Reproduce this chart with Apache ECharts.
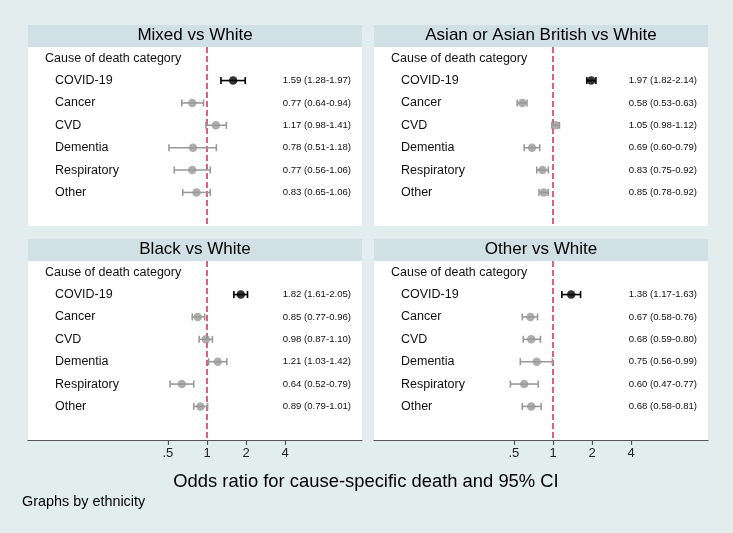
<!DOCTYPE html>
<html>
<head>
<meta charset="utf-8">
<script src="https://cdn.jsdelivr.net/npm/echarts@6/dist/echarts.min.js"></script>
<style>
html,body{margin:0;padding:0;background:#e2eeee;}
#chart{width:733px;height:533px;}
</style>
</head>
<body>
<div id="chart"></div>
<script>
// ---- data ----
const panelTitles = ["Mixed vs White", "Asian or Asian British vs White", "Black vs White", "Other vs White"];
const causes = ["COVID-19", "Cancer", "CVD", "Dementia", "Respiratory", "Other"];
const headerLabel = "Cause of death category";

const mixedOR = [1.59, 0.77, 1.17, 0.78, 0.77, 0.83];
const mixedLo = [1.28, 0.64, 0.98, 0.51, 0.56, 0.65];
const mixedHi = [1.97, 0.94, 1.41, 1.18, 1.06, 1.06];

const asianOR = [1.97, 0.58, 1.05, 0.69, 0.83, 0.85];
const asianLo = [1.82, 0.53, 0.98, 0.60, 0.75, 0.78];
const asianHi = [2.14, 0.63, 1.12, 0.79, 0.92, 0.92];

const blackOR = [1.82, 0.85, 0.98, 1.21, 0.64, 0.89];
const blackLo = [1.61, 0.77, 0.87, 1.03, 0.52, 0.79];
const blackHi = [2.05, 0.96, 1.10, 1.42, 0.79, 1.01];

const otherOR = [1.38, 0.67, 0.68, 0.75, 0.60, 0.68];
const otherLo = [1.17, 0.58, 0.59, 0.56, 0.47, 0.58];
const otherHi = [1.63, 0.76, 0.80, 0.99, 0.77, 0.81];

const xTicks = [0.5, 1, 2, 4];
const refValue = 1;
const xAxisTitle = "Odds ratio for cause-specific death and 95% CI";
const noteText = "Graphs by ethnicity";

// ---- build ----
const panels = [
  {or: mixedOR, lo: mixedLo, hi: mixedHi},
  {or: asianOR, lo: asianLo, hi: asianHi},
  {or: blackOR, lo: blackLo, hi: blackHi},
  {or: otherOR, lo: otherLo, hi: otherHi}
];
const rows = [headerLabel].concat(causes).concat([""]);
const fmt = v => v.toFixed(2);

const gridPos = [
  {left: 28, top: 47}, {left: 374, top: 47},
  {left: 28, top: 261}, {left: 374, top: 261}
];
const GW = 334, GH = 179;
const xMin = Math.pow(2, -4.578), xMax = Math.pow(2, 3.964);
const BLACK = '#000000', GREY = '#999999', RED = '#d43a5e';
const FONT = '"Liberation Sans", Arial, Helvetica, sans-serif';

const grid = [], xAxis = [], yAxis = [], series = [], graphic = [];
panels.forEach((p, i) => {
  const g = gridPos[i];
  grid.push({left: g.left, top: g.top, width: GW, height: GH, show: true,
             backgroundColor: '#ffffff', borderWidth: 0, containLabel: false});
  const bottom = i >= 2;
  xAxis.push({
    type: 'log', logBase: 2, gridIndex: i, min: xMin, max: xMax,
    show: bottom,
    axisLine: {show: bottom, lineStyle: {color: '#555555', width: 1.2}},
    axisTick: {show: bottom, length: 5, customValues: xTicks, lineStyle: {color: '#555555', width: 1.2}},
    axisLabel: {show: bottom, customValues: xTicks, margin: 7, fontSize: 13, color: '#222',
                fontFamily: FONT, formatter: v => (v === 0.5 ? '.5' : String(v))},
    splitLine: {show: false}, minorTick: {show: false}
  });
  const valueLabels = [''].concat(p.or.map((v, k) => `${fmt(v)} (${fmt(p.lo[k])}-${fmt(p.hi[k])})`)).concat(['']);
  yAxis.push({
    type: 'category', gridIndex: i, data: rows, inverse: true, position: 'left',
    axisLine: {show: false}, axisTick: {show: false}, splitLine: {show: false},
    axisLabel: {inside: true, margin: 17, interval: 0, fontSize: 12.5, color: '#111', fontFamily: FONT,
      formatter: v => v === headerLabel ? '{h|' + v + '}' : (v ? '{c|' + v + '}' : ''),
      rich: {h: {fontSize: 12.5, color: '#111', fontFamily: FONT},
             c: {fontSize: 12.5, color: '#111', fontFamily: FONT, padding: [0, 0, 0, 10]}}}
  });
  yAxis.push({
    type: 'category', gridIndex: i, data: rows, inverse: true, position: 'right',
    axisLine: {show: false}, axisTick: {show: false}, splitLine: {show: false},
    axisLabel: {inside: true, margin: 11, interval: 0, fontSize: 9.6, color: '#111', fontFamily: FONT,
      formatter: (v, idx) => valueLabels[idx]}
  });
  const ciData = causes.map((c, k) => [p.lo[k], p.hi[k], c, k]);
  series.push({
    type: 'custom', xAxisIndex: i, yAxisIndex: 2 * i, z: 3, silent: true,
    data: ciData, encode: {x: [0, 1], y: 2},
    renderItem: (params, api) => {
      const cat = api.value(2);
      const a = api.coord([api.value(0), cat]);
      const b = api.coord([api.value(1), cat]);
      const col = api.value(3) === 0 ? BLACK : GREY;
      const h = 3.5;
      const st = {stroke: col, lineWidth: 1.6};
      return {type: 'group', children: [
        {type: 'line', shape: {x1: a[0], y1: a[1], x2: b[0], y2: b[1]}, style: st},
        {type: 'line', shape: {x1: a[0], y1: a[1] - h, x2: a[0], y2: a[1] + h}, style: st},
        {type: 'line', shape: {x1: b[0], y1: b[1] - h, x2: b[0], y2: b[1] + h}, style: st}
      ]};
    }
  });
  series.push({
    type: 'scatter', xAxisIndex: i, yAxisIndex: 2 * i, z: 4, silent: true,
    symbol: 'circle', symbolSize: 8.5,
    data: causes.map((c, k) => ({value: [p.or[k], c], itemStyle: {color: k === 0 ? BLACK : GREY}})),
    markLine: {
      silent: true, symbol: 'none', z: 1, label: {show: false},
      lineStyle: {color: RED, type: [6, 3], width: 1.6},
      data: [{xAxis: refValue}]
    }
  });
  // header strip + title
  graphic.push({type: 'rect', shape: {x: g.left, y: g.top - 22, width: GW, height: 22},
                style: {fill: '#d1e0e5'}, z: 0});
  graphic.push({type: 'text', x: g.left + GW / 2, y: g.top - 11.5, z: 1,
                style: {text: panelTitles[i], fill: '#000', font: '17px ' + FONT,
                        textAlign: 'center', textVerticalAlign: 'middle'}});
});
graphic.push({type: 'text', x: 366, y: 482, style: {text: xAxisTitle, fill: '#000', font: '18.4px ' + FONT,
              textAlign: 'center', textVerticalAlign: 'middle'}});
graphic.push({type: 'text', x: 22, y: 502, style: {text: noteText, fill: '#000', font: '14.4px ' + FONT,
              textAlign: 'left', textVerticalAlign: 'middle'}});

const chart = echarts.init(document.getElementById('chart'), null, {renderer: 'canvas'});
chart.setOption({
  animation: false,
  backgroundColor: '#e2eeee',
  grid, xAxis, yAxis, series, graphic
});
</script>
</body>
</html>
